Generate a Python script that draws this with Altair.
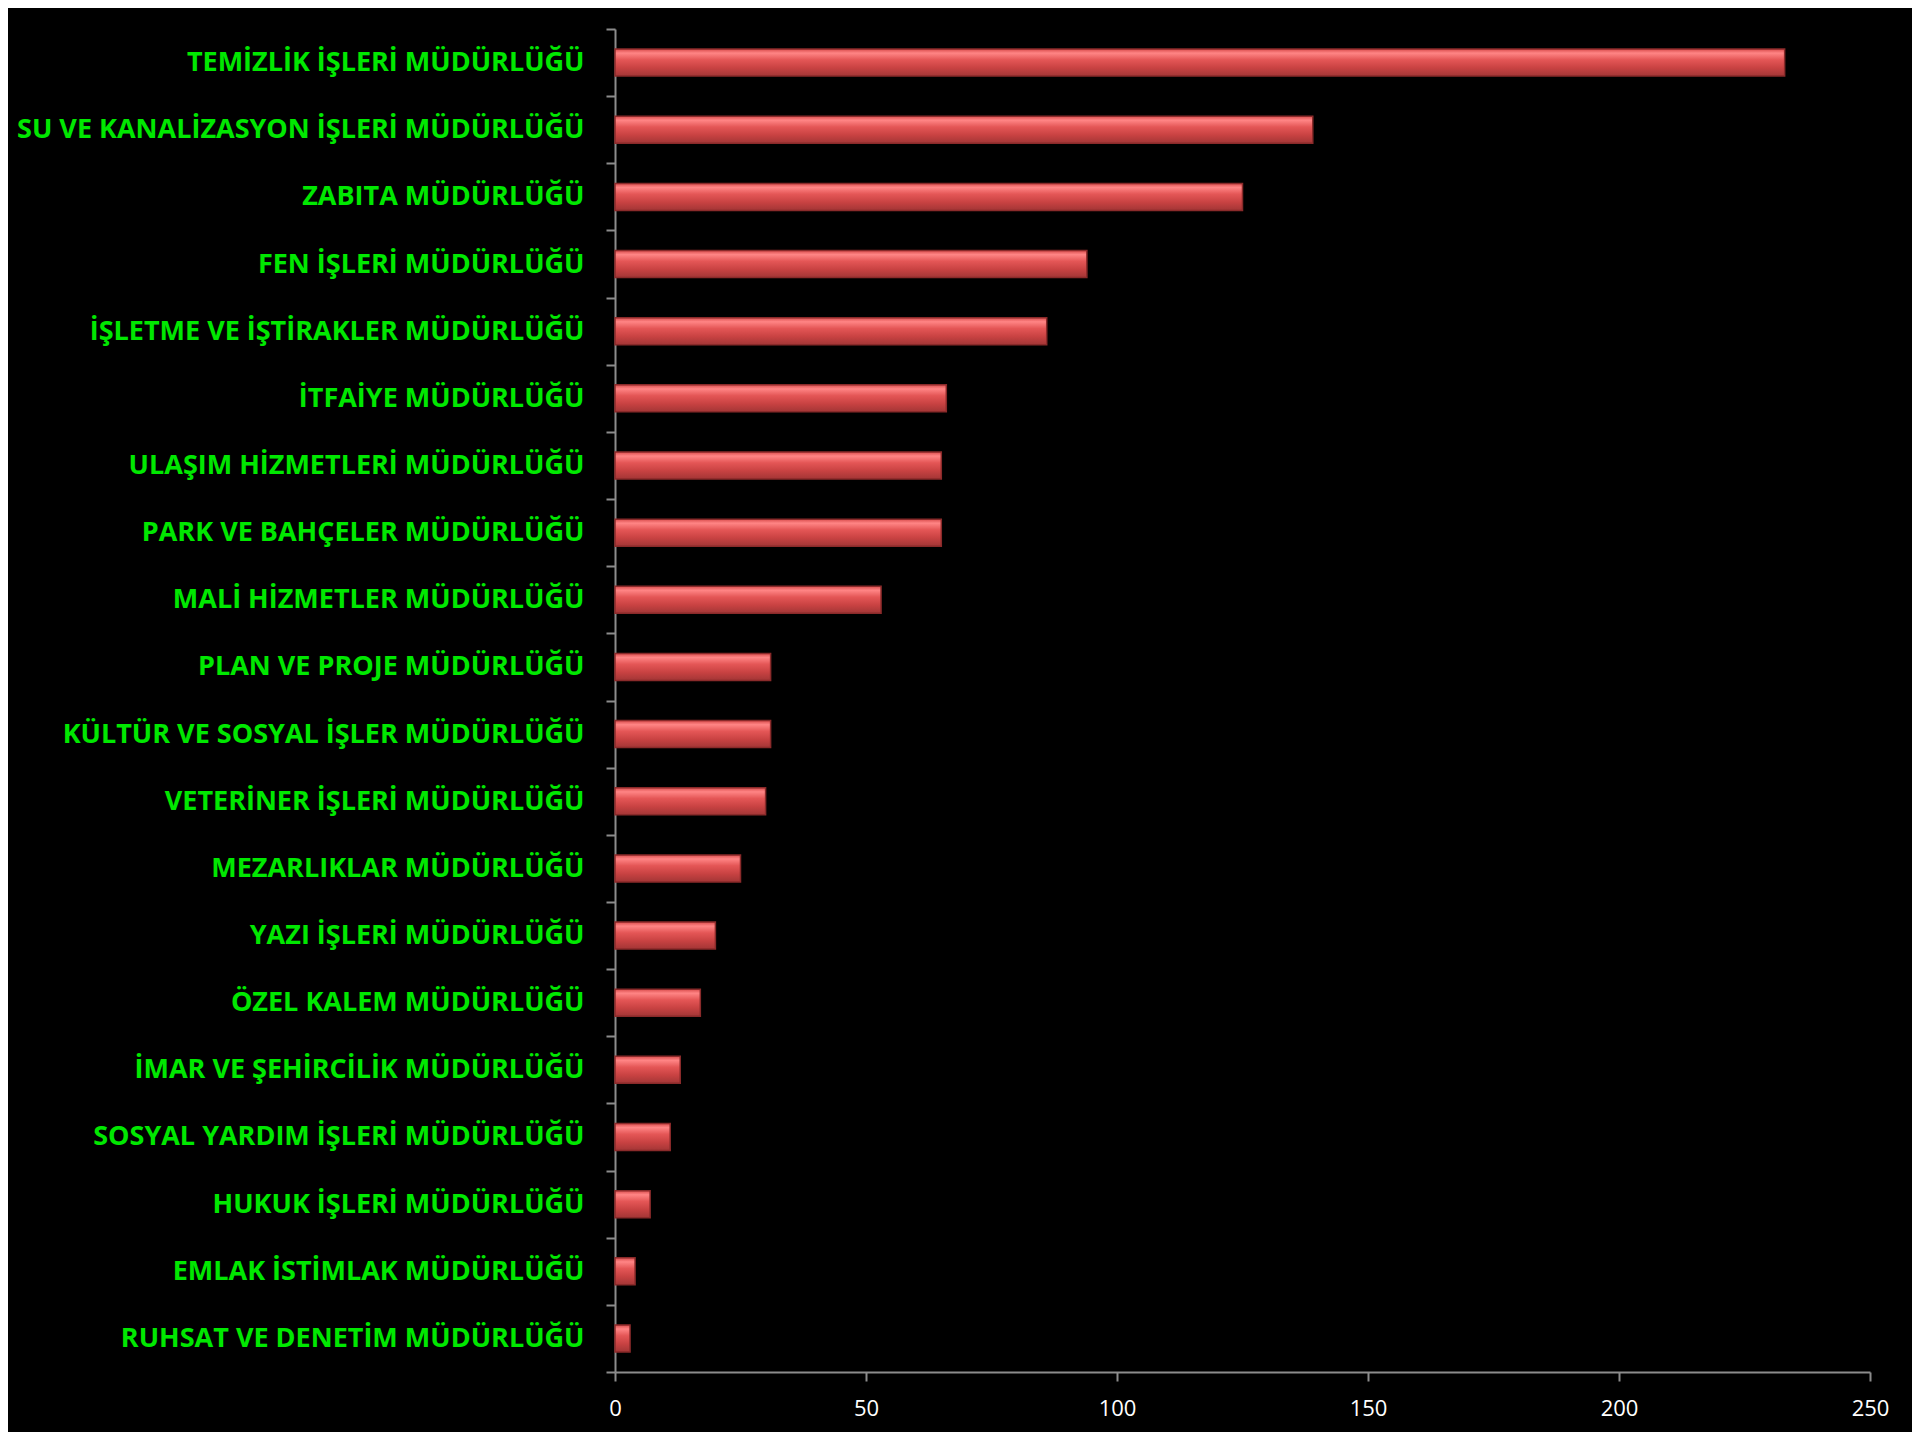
import altair as alt
import pandas as pd

categories = [
    "TEMİZLİK İŞLERİ MÜDÜRLÜĞÜ",
    "SU VE KANALİZASYON İŞLERİ MÜDÜRLÜĞÜ",
    "ZABITA MÜDÜRLÜĞÜ",
    "FEN İŞLERİ MÜDÜRLÜĞÜ",
    "İŞLETME VE İŞTİRAKLER MÜDÜRLÜĞÜ",
    "İTFAİYE MÜDÜRLÜĞÜ",
    "ULAŞIM HİZMETLERİ MÜDÜRLÜĞÜ",
    "PARK VE BAHÇELER MÜDÜRLÜĞÜ",
    "MALİ HİZMETLER MÜDÜRLÜĞÜ",
    "PLAN VE PROJE MÜDÜRLÜĞÜ",
    "KÜLTÜR VE SOSYAL İŞLER MÜDÜRLÜĞÜ",
    "VETERİNER İŞLERİ MÜDÜRLÜĞÜ",
    "MEZARLIKLAR MÜDÜRLÜĞÜ",
    "YAZI İŞLERİ MÜDÜRLÜĞÜ",
    "ÖZEL KALEM MÜDÜRLÜĞÜ",
    "İMAR VE ŞEHİRCİLİK MÜDÜRLÜĞÜ",
    "SOSYAL YARDIM İŞLERİ MÜDÜRLÜĞÜ",
    "HUKUK İŞLERİ MÜDÜRLÜĞÜ",
    "EMLAK İSTİMLAK MÜDÜRLÜĞÜ",
    "RUHSAT VE DENETİM MÜDÜRLÜĞÜ",
]
values = [233, 139, 125, 94, 86, 66, 65, 65, 53, 31, 31, 30, 25, 20, 17, 13, 11, 7, 4, 3]
x_ticks = [0, 50, 100, 150, 200, 250]

df = pd.DataFrame({"birim": categories, "sayi": values})

grad = alt.Gradient(
    gradient="linear",
    x1=0, y1=0, x2=0, y2=1,
    stops=[
        alt.GradientStop(color="#D94C4C", offset=0),
        alt.GradientStop(color="#FF8585", offset=0.15),
        alt.GradientStop(color="#E45656", offset=0.4),
        alt.GradientStop(color="#C84242", offset=0.7),
        alt.GradientStop(color="#A33636", offset=1),
    ],
)

chart = (
    alt.Chart(df)
    .mark_bar(fill=grad, stroke="#8A2A2A", strokeWidth=1.5, height=27)
    .encode(
        x=alt.X(
            "sayi:Q",
            scale=alt.Scale(domain=[0, 250], nice=False),
            axis=alt.Axis(
                values=x_ticks,
                title=None,
                grid=False,
                domainColor="#8C8C8C",
                domainWidth=2,
                tickColor="#8C8C8C",
                tickWidth=2,
                tickSize=9,
                labelColor="#FFFFFF",
                labelFont="Open Sans",
                labelFontSize=22,
                labelPadding=17,
                labelFlush=False,
            ),
        ),
        y=alt.Y(
            "birim:N",
            sort=categories,
            scale=alt.Scale(paddingInner=0, paddingOuter=0),
            axis=alt.Axis(
                title=None,
                domainColor="#8C8C8C",
                domainWidth=2,
                tickColor="#8C8C8C",
                tickWidth=2,
                tickSize=9,
                tickBand="extent",
                labelColor="#00E800",
                labelFont="Open Sans",
                labelFontWeight="bold",
                labelFontSize=27,
                labelPadding=22,
                labelLimit=0,
            ),
        ),
    )
    .properties(
        width=1255,
        height=1343,
        background="#000000",
        padding={"left": 607, "top": 21, "right": 42, "bottom": 60},
        autosize=alt.AutoSizeParams(type="none"),
    )
    .configure_view(stroke=None)
)

chart.save("out.html", embed_options={"renderer": "svg", "actions": False})
